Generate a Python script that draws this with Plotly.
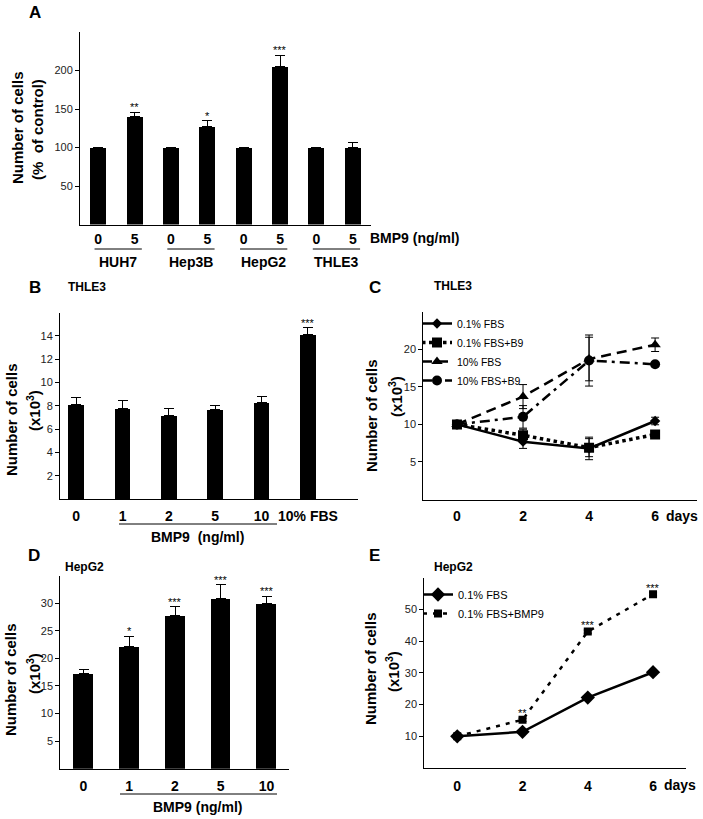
import plotly.graph_objects as go

W, H = 703, 819
def px(x): return x / W
def py(y): return 1 - y / H

# ---------------- data ----------------
# Panel A
a_cells = ["HUH7", "Hep3B", "HepG2", "THLE3"]
a_doses = ["0", "5", "0", "5", "0", "5", "0", "5"]
a_values = [100, 140, 100, 127, 100, 205, 100, 100]
a_errors = [0, 6, 0, 8, 0, 15, 0, 7]
a_stars = ["", "**", "", "*", "", "***", "", ""]

# Panel B
b_labels = ["0", "1", "2", "5", "10", "10% FBS"]
b_values = [8.1, 7.75, 7.15, 7.65, 8.25, 14.15]
b_errors = [0.65, 0.7, 0.65, 0.35, 0.55, 0.55]
b_stars = ["", "", "", "", "", "***"]

# Panel C
c_days = [0, 2, 4, 6]
c_fbs01 = [10, 7.7, 6.8, 10.45]
c_fbs01_err = [0, 0.9, 1.5, 0.5]
c_fbs01_b9 = [10, 8.55, 6.9, 8.65]
c_fbs01_b9_err = [0, 0.8, 1.2, 0.5]
c_fbs10 = [10, 13.7, 18.7, 20.6]
c_fbs10_err = [0, 1.6, 2.9, 0.9]
c_fbs10_b9 = [10, 11.0, 18.5, 18.0]
c_fbs10_b9_err = [0, 1.5, 3.4, 0.3]

# Panel D
d_labels = ["0", "1", "2", "5", "10"]
d_values = [17.2, 22.1, 27.7, 30.9, 30.0]
d_errors = [0.85, 1.9, 1.65, 2.5, 1.25]
d_stars = ["", "*", "***", "***", "***"]

# Panel E
e_days = [0, 2, 4, 6]
e_fbs01 = [10, 11.4, 22.2, 30.2]
e_bmp9 = [10, 15.2, 43.0, 54.8]
e_bmp9_err = [0, 0.5, 0.5, 0.5]
e_stars = ["", "**", "***", "***"]

FONT = "Arial, Liberation Sans, Helvetica, sans-serif"

fig = go.Figure()

def bar_err(vals, errs):
    return dict(type="data", array=errs, arrayminus=[0] * len(errs), symmetric=False,
                color="black", thickness=1, width=5, visible=True)

# Panel A bars
fig.add_trace(go.Bar(x=list(range(len(a_values))), y=a_values, width=0.44,
                     marker=dict(color="black", line=dict(width=0)),
                     error_y=bar_err(a_values, a_errors), xaxis="x", yaxis="y", showlegend=False))
# Panel B bars
fig.add_trace(go.Bar(x=list(range(len(b_values))), y=b_values, width=0.34,
                     marker=dict(color="black", line=dict(width=0)),
                     error_y=bar_err(b_values, b_errors), xaxis="x2", yaxis="y2", showlegend=False))
# Panel D bars
fig.add_trace(go.Bar(x=list(range(len(d_values))), y=d_values, width=0.43,
                     marker=dict(color="black", line=dict(width=0)),
                     error_y=bar_err(d_values, d_errors), xaxis="x4", yaxis="y4", showlegend=False))

def line_err(errs):
    return dict(type="data", array=errs, color="black", thickness=1, width=4, visible=True)

# Panel C lines
c_series = [
    ("0.1% FBS", c_fbs01, c_fbs01_err, "solid", "diamond", 8, 2.5),
    ("0.1% FBS+B9", c_fbs01_b9, c_fbs01_b9_err, "dot", "square", 10, 3.5),
    ("10% FBS", c_fbs10, c_fbs10_err, "10px,6px", "triangle-up", 10, 2.5),
    ("10% FBS+B9", c_fbs10_b9, c_fbs10_b9_err, "10px,5px,3px,5px", "circle", 10, 2.5),
]
for name, vals, errs, dash, sym, size, lw in c_series:
    fig.add_trace(go.Scatter(x=c_days, y=vals, name=name, mode="lines+markers",
                             line=dict(color="black", width=lw, dash=dash),
                             marker=dict(symbol=sym, size=size, color="black"),
                             error_y=line_err(errs), xaxis="x3", yaxis="y3", legend="legend"))

# Panel E lines
fig.add_trace(go.Scatter(x=e_days, y=e_fbs01, name="0.1% FBS", mode="lines+markers",
                         line=dict(color="black", width=2.5),
                         marker=dict(symbol="diamond", size=11, color="black"),
                         xaxis="x5", yaxis="y5", legend="legend2"))
fig.add_trace(go.Scatter(x=e_days, y=e_bmp9, name="0.1% FBS+BMP9", mode="lines+markers",
                         line=dict(color="black", width=2.5, dash="4px,6px"),
                         marker=dict(symbol="square", size=8, color="black"),
                         error_y=line_err(e_bmp9_err), xaxis="x5", yaxis="y5", legend="legend2"))

axis_common = dict(showline=True, linecolor="black", linewidth=1, showgrid=False,
                   zeroline=False, fixedrange=True)
yax = dict(axis_common, ticks="outside", ticklen=4, tickwidth=1, tickcolor="black",
           tickfont=dict(family=FONT, size=11, color="#222"))
def xax(tickvals, ticktext, rng, domain, anchor, standoff):
    return dict(axis_common, ticks="", range=rng, domain=domain, anchor=anchor,
                tickmode="array", tickvals=tickvals,
                ticktext=["<b>%s</b>" % t for t in ticktext],
                tickfont=dict(family=FONT, size=14, color="black"),
                ticklabelstandoff=standoff)

fig.update_layout(
    width=W, height=H, margin=dict(l=0, r=0, t=0, b=0),
    paper_bgcolor="white", plot_bgcolor="white",
    font=dict(family=FONT, color="black"),
    bargap=0,
    xaxis=xax(list(range(8)), a_doses, [-0.5, 7.5], [px(80), px(371)], "y", 2),
    yaxis=dict(yax, range=[0, 250], domain=[py(224.5), py(32)], anchor="x",
               tickvals=[50, 100, 150, 200]),
    xaxis2=xax(list(range(6)), b_labels, [-0.35, 6.08], [px(60), px(358)], "y2", 4),
    yaxis2=dict(yax, range=[0, 16], domain=[py(499), py(312.7)], anchor="x2",
                tickvals=[2, 4, 6, 8, 10, 12, 14]),
    xaxis3=xax(c_days, [str(d) for d in c_days], [-1.02, 7.26], [px(423.3), px(696.7)], "y3", 4),
    yaxis3=dict(yax, range=[0, 25], domain=[py(499.5), py(311.7)], anchor="x3",
                tickvals=[5, 10, 15, 20]),
    xaxis4=xax(list(range(5)), d_labels, [-0.507, 4.485], [px(60.3), px(288.7)], "y4", 4),
    yaxis4=dict(yax, range=[0, 35], domain=[py(768.7), py(575.7)], anchor="x4",
                tickvals=[5, 10, 15, 20, 25, 30]),
    xaxis5=xax(e_days, [str(d) for d in e_days], [-1.01, 7.01], [px(424.3), px(686)], "y5", 5),
    yaxis5=dict(yax, range=[0, 60], domain=[py(768), py(577.7)], anchor="x5",
                tickvals=[10, 20, 30, 40, 50]),
    legend=dict(x=px(417), y=py(309), xanchor="left", yanchor="top",
                font=dict(family=FONT, size=10.5), bgcolor="rgba(0,0,0,0)",
                itemwidth=30, tracegroupgap=0),
    legend2=dict(x=px(418), y=py(580), xanchor="left", yanchor="top",
                 font=dict(family=FONT, size=11), bgcolor="rgba(0,0,0,0)",
                 itemwidth=30, tracegroupgap=0),
)

ann = []
shapes = []

def text(x, y, t, size, bold=True, xanchor="center", angle=0):
    ann.append(dict(x=px(x), y=py(y), xref="paper", yref="paper", showarrow=False,
                    text=("<b>%s</b>" % t) if bold else t, textangle=angle,
                    xanchor=xanchor, yanchor="middle",
                    font=dict(family=FONT, size=size, color="black")))

def stars(xref, yref, xs, vals, errs, labels):
    for x, v, e, s in zip(xs, vals, errs, labels):
        if s:
            ann.append(dict(x=x, y=v + e, xref=xref, yref=yref, text=s, showarrow=False,
                            yanchor="bottom", yshift=-3,
                            font=dict(family=FONT, size=11, color="black")))

# Panel letters and titles
text(35, 13, "A", 17)
text(35, 287, "B", 17)
text(375, 287, "C", 17)
text(34, 555, "D", 17)
text(375, 555, "E", 17)
text(66, 287, "THLE3", 12, xanchor="left")
text(432, 286, "THLE3", 12, xanchor="left")
text(63, 567, "HepG2", 12, xanchor="left")
text(432, 567, "HepG2", 12, xanchor="left")

# y axis titles
text(17, 128, "Number of cells", 15, angle=-90)
text(37, 130, "(%  of control)", 15, angle=-90)
text(12, 420, "Number of cells", 15, angle=-90)
text(33, 411, "(x10<sup>3</sup>)", 15, angle=-90)
text(371, 416, "Number of cells", 15, angle=-90)
text(395, 396, "(x10<sup>3</sup>)", 15, angle=-90)
text(10, 680, "Number of cells", 15, angle=-90)
text(33, 674, "(x10<sup>3</sup>)", 15, angle=-90)
text(370, 669, "Number of cells", 15, angle=-90)
text(392, 672, "(x10<sup>3</sup>)", 15, angle=-90)

# Panel A group labels and lines
text(368, 238, "BMP9 (ng/ml)", 14, xanchor="left")
for i, c in enumerate(a_cells):
    shapes.append(dict(type="line", xref="x", yref="paper", x0=2 * i - 0.1, x1=2 * i + 1.2,
                       y0=py(249), y1=py(249), line=dict(color="black", width=1)))
    ann.append(dict(x=2 * i + 0.55, y=py(262), xref="x", yref="paper", showarrow=False,
                    text="<b>%s</b>" % c, yanchor="middle",
                    font=dict(family=FONT, size=14, color="black")))

# Panel B / D BMP9 underline
shapes.append(dict(type="line", xref="paper", yref="paper", x0=px(119), x1=px(277),
                   y0=py(524), y1=py(524), line=dict(color="black", width=1)))
text(197, 537, "BMP9  (ng/ml)", 14)
shapes.append(dict(type="line", xref="paper", yref="paper", x0=px(120), x1=px(277),
                   y0=py(794), y1=py(794), line=dict(color="black", width=1)))
text(197, 807, "BMP9 (ng/ml)", 14)

# days labels
text(700, 516, "days", 14, xanchor="right")
text(698, 785, "days", 14, xanchor="right")

# significance stars
stars("x", "y", list(range(8)), a_values, a_errors, a_stars)
stars("x2", "y2", list(range(6)), b_values, b_errors, b_stars)
stars("x4", "y4", list(range(5)), d_values, d_errors, d_stars)
stars("x5", "y5", e_days, e_bmp9, e_bmp9_err, e_stars)

fig.update_layout(annotations=ann, shapes=shapes)
fig.write_html("out.html", config={"displayModeBar": False},
               post_script="document.body.style.margin='0';document.body.style.padding='0';")
